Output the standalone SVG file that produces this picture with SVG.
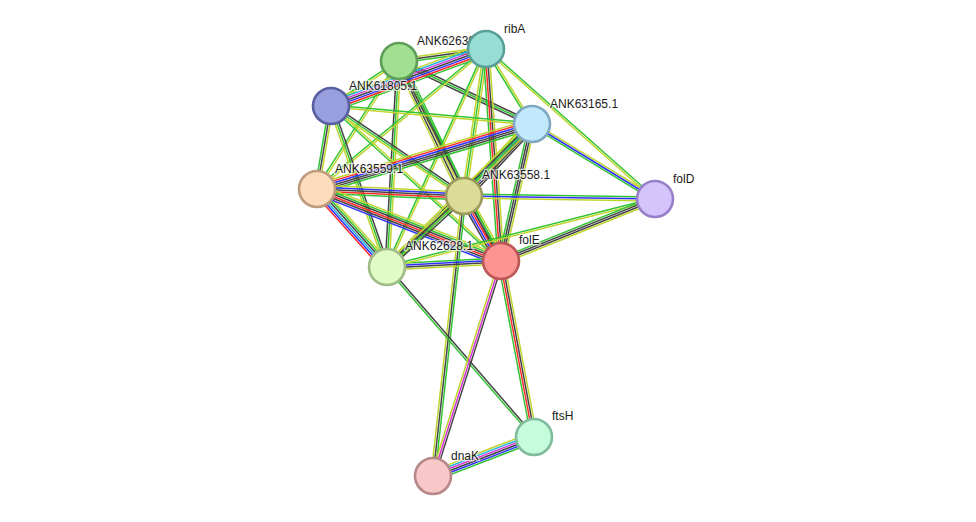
<svg xmlns="http://www.w3.org/2000/svg" width="976" height="522" viewBox="0 0 976 522">
<style>
.e line{stroke-width:1.5;fill:none}
.y{stroke:#c0d42e}.k{stroke:#444}.b{stroke:#3030ff}.r{stroke:#ff2a2a}.c{stroke:#28b4dc}.m{stroke:#d633d6}.g{stroke:#33c433}
.n circle{stroke-width:2.6}
.n text{font-family:"Liberation Sans",Arial,sans-serif;font-size:12px;fill:#1a1a1a;stroke:#fff;stroke-width:2.5;stroke-opacity:0.7;paint-order:stroke;stroke-linejoin:round}
</style>
<rect width="976" height="522" fill="#fff"/>
<g id="edges" class="e">
<g transform="translate(399 61) rotate(-7.85)"><line class="y" x2="87.8" y1="-2" y2="-2"/><line class="k" x2="87.8"/><line class="g" x2="87.8" y1="2" y2="2"/></g>
<g transform="translate(399 61) rotate(146.5)"><line class="y" x2="81.5" y1="-1" y2="-1"/><line class="g" x2="81.5" y1="1" y2="1"/></g>
<g transform="translate(399 61) rotate(25.35)"><line class="k" x2="147.2" y1="-2" y2="-2"/><line class="g" x2="147.2"/><line class="k" x2="147.2" y1="2" y2="2"/></g>
<g transform="translate(399 61) rotate(122.64)"><line class="y" x2="152" y1="-1" y2="-1"/><line class="g" x2="152" y1="1" y2="1"/></g>
<g transform="translate(399 61) rotate(64.29)"><line class="g" x2="149.8" y1="-4" y2="-4"/><line class="k" x2="149.8" y1="-2" y2="-2"/><line class="y" x2="149.8"/><line class="k" x2="149.8" y1="2" y2="2"/><line class="y" x2="149.8" y1="4" y2="4"/></g>
<g transform="translate(399 61) rotate(93.33)"><line class="y" x2="206.3" y1="-2" y2="-2"/><line class="g" x2="206.3"/><line class="k" x2="206.3" y1="2" y2="2"/></g>
<g transform="translate(399 61) rotate(62.98)"><line class="g" x2="224.5" y1="-1" y2="-1"/><line class="k" x2="224.5" y1="1" y2="1"/></g>
<g transform="translate(486 49) rotate(159.81)"><line class="y" x2="165.1" y1="6" y2="6"/><line class="c" x2="165.1" y1="4" y2="4"/><line class="m" x2="165.1" y1="2" y2="2"/><line class="k" x2="165.1"/><line class="b" x2="165.1" y1="-2" y2="-2"/><line class="r" x2="165.1" y1="-4" y2="-4"/><line class="g" x2="165.1" y1="-6" y2="-6"/></g>
<g transform="translate(486 49) rotate(58.48)"><line class="y" x2="88" y1="-1" y2="-1"/><line class="g" x2="88" y1="1" y2="1"/></g>
<g transform="translate(486 49) rotate(140.36)"><line class="y" x2="219.5" y1="-1" y2="-1"/><line class="g" x2="219.5" y1="1" y2="1"/></g>
<g transform="translate(486 49) rotate(98.51)"><line class="y" x2="148.6" y1="-2" y2="-2"/><line class="g" x2="148.6"/><line class="y" x2="148.6" y1="2" y2="2"/></g>
<g transform="translate(486 49) rotate(114.42)"><line class="y" x2="239.4" y1="-1" y2="-1"/><line class="g" x2="239.4" y1="1" y2="1"/></g>
<g transform="translate(486 49) rotate(85.95)"><line class="y" x2="212.5" y1="-3" y2="-3"/><line class="k" x2="212.5" y1="-1" y2="-1"/><line class="r" x2="212.5" y1="1" y2="1"/><line class="g" x2="212.5" y1="3" y2="3"/></g>
<g transform="translate(486 49) rotate(41.59)"><line class="g" x2="226" y1="-1" y2="-1"/><line class="y" x2="226" y1="1" y2="1"/></g>
<g transform="translate(331 106) rotate(5.12)"><line class="g" x2="201.8" y1="-1" y2="-1"/><line class="y" x2="201.8" y1="1" y2="1"/></g>
<g transform="translate(331 106) rotate(99.57)"><line class="y" x2="84.2" y1="-2" y2="-2"/><line class="k" x2="84.2"/><line class="g" x2="84.2" y1="2" y2="2"/></g>
<g transform="translate(331 106) rotate(34.09)"><line class="k" x2="160.6" y1="-2" y2="-2"/><line class="g" x2="160.6"/><line class="y" x2="160.6" y1="2" y2="2"/></g>
<g transform="translate(331 106) rotate(70.82)"><line class="k" x2="170.5" y1="-2" y2="-2"/><line class="g" x2="170.5"/><line class="y" x2="170.5" y1="2" y2="2"/></g>
<g transform="translate(331 106) rotate(42.36)"><line class="y" x2="230.1" y1="-1" y2="-1"/><line class="g" x2="230.1" y1="1" y2="1"/></g>
<g transform="translate(317 189) rotate(-16.82)"><line class="y" x2="224.6" y1="-5" y2="-5"/><line class="r" x2="224.6" y1="-3" y2="-3"/><line class="b" x2="224.6" y1="-1" y2="-1"/><line class="k" x2="224.6" y1="1" y2="1"/><line class="k" x2="224.6" y1="3" y2="3"/><line class="g" x2="224.6" y1="5" y2="5"/></g>
<g transform="translate(532 124) rotate(133.36)"><line class="k" x2="99" y1="-5" y2="-5"/><line class="k" x2="99" y1="-3" y2="-3"/><line class="b" x2="99" y1="-1" y2="-1"/><line class="c" x2="99" y1="1" y2="1"/><line class="g" x2="99" y1="3" y2="3"/><line class="y" x2="99" y1="5" y2="5"/></g>
<g transform="translate(532 124) rotate(135.4)"><line class="y" x2="203.7" y1="-3" y2="-3"/><line class="g" x2="203.7" y1="-1" y2="-1"/><line class="k" x2="203.7" y1="1" y2="1"/><line class="y" x2="203.7" y1="3" y2="3"/></g>
<g transform="translate(532 124) rotate(102.75)"><line class="y" x2="140.5" y1="-3" y2="-3"/><line class="k" x2="140.5" y1="-1" y2="-1"/><line class="k" x2="140.5" y1="1" y2="1"/><line class="g" x2="140.5" y1="3" y2="3"/></g>
<g transform="translate(532 124) rotate(31.37)"><line class="y" x2="144.1" y1="-2" y2="-2"/><line class="b" x2="144.1"/><line class="g" x2="144.1" y1="2" y2="2"/></g>
<g transform="translate(317 189) rotate(2.73)"><line class="y" x2="147.2" y1="-4" y2="-4"/><line class="b" x2="147.2" y1="-2" y2="-2"/><line class="k" x2="147.2"/><line class="r" x2="147.2" y1="2" y2="2"/><line class="g" x2="147.2" y1="4" y2="4"/></g>
<g transform="translate(317 189) rotate(48.09)"><line class="y" x2="104.8" y1="-5" y2="-5"/><line class="g" x2="104.8" y1="-3" y2="-3"/><line class="k" x2="104.8" y1="-1" y2="-1"/><line class="c" x2="104.8" y1="1" y2="1"/><line class="b" x2="104.8" y1="3" y2="3"/><line class="r" x2="104.8" y1="5" y2="5"/></g>
<g transform="translate(317 189) rotate(21.37)"><line class="y" x2="197.6" y1="-5" y2="-5"/><line class="g" x2="197.6" y1="-3" y2="-3"/><line class="k" x2="197.6" y1="-1" y2="-1"/><line class="r" x2="197.6" y1="1" y2="1"/><line class="k" x2="197.6" y1="3" y2="3"/><line class="b" x2="197.6" y1="5" y2="5"/></g>
<g transform="translate(464 196) rotate(0.9)"><line class="g" x2="191" y1="-2" y2="-2"/><line class="b" x2="191"/><line class="y" x2="191" y1="2" y2="2"/></g>
<g transform="translate(464 196) rotate(137.32)"><line class="k" x2="104.7" y1="-3" y2="-3"/><line class="g" x2="104.7" y1="-1" y2="-1"/><line class="k" x2="104.7" y1="1" y2="1"/><line class="y" x2="104.7" y1="3" y2="3"/></g>
<g transform="translate(464 196) rotate(60.35)"><line class="y" x2="74.8" y1="-5" y2="-5"/><line class="g" x2="74.8" y1="-3" y2="-3"/><line class="k" x2="74.8" y1="-1" y2="-1"/><line class="r" x2="74.8" y1="1" y2="1"/><line class="b" x2="74.8" y1="3" y2="3"/><line class="k" x2="74.8" y1="5" y2="5"/></g>
<g transform="translate(464 196) rotate(96.32)"><line class="g" x2="281.7" y1="-2" y2="-2"/><line class="k" x2="281.7"/><line class="y" x2="281.7" y1="2" y2="2"/></g>
<g transform="translate(387 267) rotate(-3.01)"><line class="g" x2="114.2" y1="-3" y2="-3"/><line class="b" x2="114.2" y1="-1" y2="-1"/><line class="k" x2="114.2" y1="1" y2="1"/><line class="y" x2="114.2" y1="3" y2="3"/></g>
<g transform="translate(387 267) rotate(-14.24)"><line class="g" x2="276.5" y1="-1" y2="-1"/><line class="y" x2="276.5" y1="1" y2="1"/></g>
<g transform="translate(501 261) rotate(-21.93)"><line class="g" x2="166" y1="-3" y2="-3"/><line class="k" x2="166" y1="-1" y2="-1"/><line class="k" x2="166" y1="1" y2="1"/><line class="y" x2="166" y1="3" y2="3"/></g>
<g transform="translate(387 267) rotate(49.15)"><line class="k" x2="224.7" y1="-1" y2="-1"/><line class="g" x2="224.7" y1="1" y2="1"/></g>
<g transform="translate(501 261) rotate(79.38)"><line class="y" x2="179.1" y1="-3" y2="-3"/><line class="k" x2="179.1" y1="-1" y2="-1"/><line class="r" x2="179.1" y1="1" y2="1"/><line class="g" x2="179.1" y1="3" y2="3"/></g>
<g transform="translate(501 261) rotate(107.55)"><line class="k" x2="225.5" y1="-2" y2="-2"/><line class="m" x2="225.5"/><line class="y" x2="225.5" y1="2" y2="2"/></g>
<g transform="translate(433 476) rotate(-21.11)"><line class="y" x2="108.3" y1="-5" y2="-5"/><line class="c" x2="108.3" y1="-3" y2="-3"/><line class="m" x2="108.3" y1="-1" y2="-1"/><line class="k" x2="108.3" y1="1" y2="1"/><line class="b" x2="108.3" y1="3" y2="3"/><line class="g" x2="108.3" y1="5" y2="5"/></g>
</g>
<g id="node-ANK62630" class="n"><circle cx="399" cy="61" r="18" fill="#a0e090" stroke="#5e9e58"/><text x="417" y="45">ANK62630.1</text></g>
<g id="node-ribA" class="n"><circle cx="486" cy="49" r="18" fill="#98dcd4" stroke="#5a9e98"/><text x="504" y="33">ribA</text></g>
<g id="node-ANK61805" class="n"><circle cx="331" cy="106" r="18" fill="#98a0e0" stroke="#5860a0"/><text x="349" y="90">ANK61805.1</text></g>
<g id="node-ANK63165" class="n"><circle cx="532" cy="124" r="18" fill="#c2e8fc" stroke="#80a8c0"/><text x="550" y="108">ANK63165.1</text></g>
<g id="node-ANK63559" class="n"><circle cx="317" cy="189" r="18" fill="#fcdcbc" stroke="#bc9c7c"/><text x="335" y="173">ANK63559.1</text></g>
<g id="node-ANK63558" class="n"><circle cx="464" cy="196" r="18" fill="#dcdc98" stroke="#9c9a5c"/><text x="482" y="179">ANK63558.1</text></g>
<g id="node-folD" class="n"><circle cx="655" cy="199" r="18" fill="#d4c4fc" stroke="#9880c8"/><text x="673" y="183">folD</text></g>
<g id="node-ANK62628" class="n"><circle cx="387" cy="267" r="18" fill="#e0fcc4" stroke="#a0bc88"/><text x="405" y="250">ANK62628.1</text></g>
<g id="node-folE" class="n"><circle cx="501" cy="261" r="18" fill="#fc9494" stroke="#bc5858"/><text x="519" y="244">folE</text></g>
<g id="node-ftsH" class="n"><circle cx="534" cy="437" r="18" fill="#c4fcdc" stroke="#80bc9c"/><text x="552" y="420">ftsH</text></g>
<g id="node-dnaK" class="n"><circle cx="433" cy="476" r="18" fill="#f8c8c8" stroke="#b88888"/><text x="451" y="460">dnaK</text></g>
</svg>
